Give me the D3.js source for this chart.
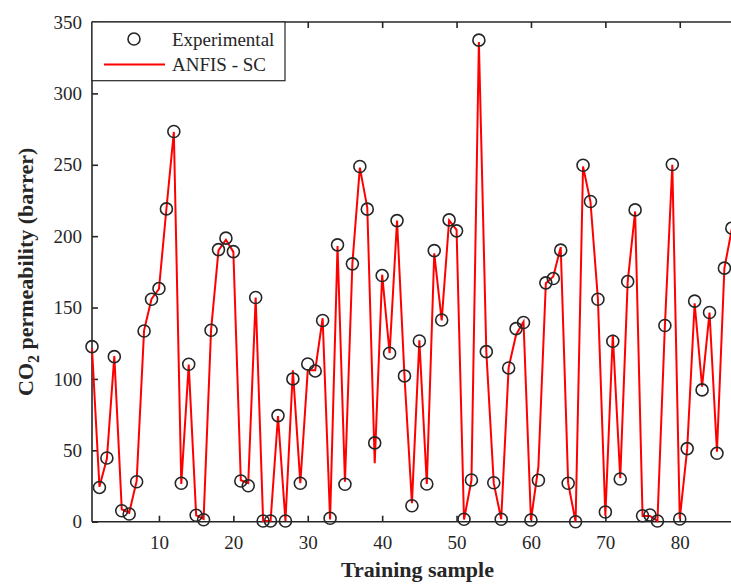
<!DOCTYPE html>
<html>
<head>
<meta charset="utf-8">
<script src="https://cdn.jsdelivr.net/npm/d3@7"></script>
<style>
  html, body { margin: 0; padding: 0; background: #fff; }
  svg { display: block; }
  text { font-family: "Liberation Serif", "Times New Roman", serif; fill: #262626; }
</style>
</head>
<body>
<svg id="chart" width="731" height="584"></svg>
<script>
// Training samples 1..87
const sampleIndex = d3.range(1, 88);

// Measured CO2 permeability (barrer)
const experimental = [122.6, 24, 44.6, 115.6, 7.7, 5.4, 28, 133.6, 155.8, 163.3,
  219.1, 273.3, 26.9, 110.3, 4.5, 1.4, 134.1, 190.6, 198.6, 189.2,
  28.5, 25.2, 157, 0.5, 0.5, 74.3, 0.5, 100, 26.9, 110.5,
  105.6, 140.9, 2.4, 193.9, 26.2, 180.6, 248.8, 218.9, 55.2, 172.4,
  118, 210.9, 102.1, 11.2, 126.6, 26.4, 189.9, 141.3, 211.4, 203.7,
  1.7, 29.2, 337.3, 119.1, 27.3, 1.7, 107.7, 135.2, 139.5, 1.2,
  29, 167.3, 170.3, 190.2, 26.9, 0, 249.7, 224.3, 155.8, 6.8,
  126.4, 29.9, 168.2, 218.4, 4.2, 4.7, 0.5, 137.4, 250.2, 1.9,
  51.2, 154.5, 92.3, 146.5, 47.9, 177.6, 205.6];

// ANFIS - SC model output
const anfisSC = [121.5, 24.5, 44, 116, 8.7, 6.3, 28.5, 134, 156, 163,
  219, 273, 26.5, 110, 4.5, 2, 134, 190, 197.5, 189,
  29, 27, 157, 0.5, 0.5, 74, 0.5, 106, 27, 106,
  106, 142.5, 1.5, 193, 28, 181, 248, 220, 41, 173,
  118, 211, 102, 13, 127, 26.4, 188, 141, 211, 204.4,
  1.5, 29, 336, 119, 27, 1.7, 108, 131, 140, 1.2,
  38.5, 167, 171.7, 192.3, 27, 0, 248.8, 224, 156, 4,
  131, 30.4, 168, 217.3, 4, 4, 0.5, 137, 250, 2,
  51, 153, 94.6, 146.5, 49, 177.6, 205];

const xTicks = [10, 20, 30, 40, 50, 60, 70, 80];
const yTicks = [0, 50, 100, 150, 200, 250, 300, 350];

const svg = d3.select("#chart");
const plotLeft = 92, plotTop = 22, plotBottom = 521.7;
const pxPerSample = 7.44;

const x = d3.scaleLinear().domain([1, 100]).range([plotLeft, plotLeft + 99 * pxPerSample]);
const y = d3.scaleLinear().domain([0, 350]).range([plotBottom, plotTop]);

const axisColor = "#262626";
const serif = "'Liberation Serif', 'Times New Roman', serif";

// clip region for the data marks
svg.append("defs").append("clipPath").attr("id", "plotClip")
  .append("rect").attr("x", plotLeft - 10).attr("y", plotTop - 10)
  .attr("width", 731 - plotLeft + 20).attr("height", plotBottom - plotTop + 20);

// axes (ticks pointing inward)
const bottomAxis = svg.append("g").attr("transform", `translate(0,${plotBottom})`)
  .call(d3.axisBottom(x).tickValues(xTicks).tickSizeInner(-6).tickSizeOuter(0).tickPadding(14));
const topAxis = svg.append("g").attr("transform", `translate(0,${plotTop})`)
  .call(d3.axisTop(x).tickValues(xTicks).tickSizeInner(-6).tickSizeOuter(0).tickFormat(""));
const leftAxis = svg.append("g").attr("transform", `translate(${plotLeft},0)`)
  .call(d3.axisLeft(y).tickValues(yTicks).tickSizeInner(-6).tickSizeOuter(0).tickPadding(10));

[bottomAxis, topAxis, leftAxis].forEach(g => {
  g.attr("font-family", serif);
  g.select(".domain").attr("stroke", axisColor).attr("stroke-width", 1.6);
  g.selectAll(".tick line").attr("stroke", axisColor).attr("stroke-width", 1.6);
  g.selectAll(".tick text").attr("font-size", 19).attr("fill", axisColor);
});
// frame lines run to the right edge of the figure
bottomAxis.select(".domain").attr("d", `M${plotLeft},0H731`);
topAxis.select(".domain").attr("d", `M${plotLeft},0H731`);
leftAxis.select(".domain").attr("d", `M0,${plotTop}V${plotBottom}`);

const plot = svg.append("g").attr("clip-path", "url(#plotClip)");

// model line
plot.append("path")
  .datum(sampleIndex.map((s, i) => [s, anfisSC[i]]))
  .attr("fill", "none")
  .attr("stroke", "#ff0000")
  .attr("stroke-width", 2)
  .attr("stroke-linejoin", "miter")
  .attr("d", d3.line().x(d => x(d[0])).y(d => y(d[1])));

// measured points
plot.selectAll("circle.exp")
  .data(sampleIndex.map((s, i) => [s, experimental[i]]))
  .join("circle")
  .attr("class", "exp")
  .attr("cx", d => x(d[0]))
  .attr("cy", d => y(d[1]))
  .attr("r", 6)
  .attr("fill", "none")
  .attr("stroke", "#262626")
  .attr("stroke-width", 1.6);

// legend
const legend = svg.append("g");
legend.append("rect")
  .attr("x", plotLeft).attr("y", plotTop).attr("width", 193).attr("height", 58.7)
  .attr("fill", "#fff").attr("stroke", axisColor).attr("stroke-width", 1.2);
legend.append("circle").attr("cx", 134).attr("cy", 39).attr("r", 6)
  .attr("fill", "none").attr("stroke", "#262626").attr("stroke-width", 1.6);
legend.append("line").attr("x1", 104).attr("x2", 165).attr("y1", 64.5).attr("y2", 64.5)
  .attr("stroke", "#ff0000").attr("stroke-width", 2);
legend.append("text").attr("x", 172).attr("y", 45.5).attr("font-size", 19).text("Experimental");
legend.append("text").attr("x", 172).attr("y", 71).attr("font-size", 19).text("ANFIS - SC");

// axis titles
svg.append("text")
  .attr("x", (plotLeft + 731) / 2 + 6).attr("y", 577)
  .attr("text-anchor", "middle").attr("font-size", 22).attr("font-weight", "bold")
  .text("Training sample");

const yTitle = svg.append("text")
  .attr("transform", `translate(33,${(plotTop + plotBottom) / 2}) rotate(-90)`)
  .attr("text-anchor", "middle").attr("font-size", 22).attr("font-weight", "bold");
yTitle.append("tspan").text("CO");
yTitle.append("tspan").attr("font-size", 16).attr("dy", 6).text("2");
yTitle.append("tspan").attr("dy", -6).text(" permeability (barrer)");
</script>
</body>
</html>
